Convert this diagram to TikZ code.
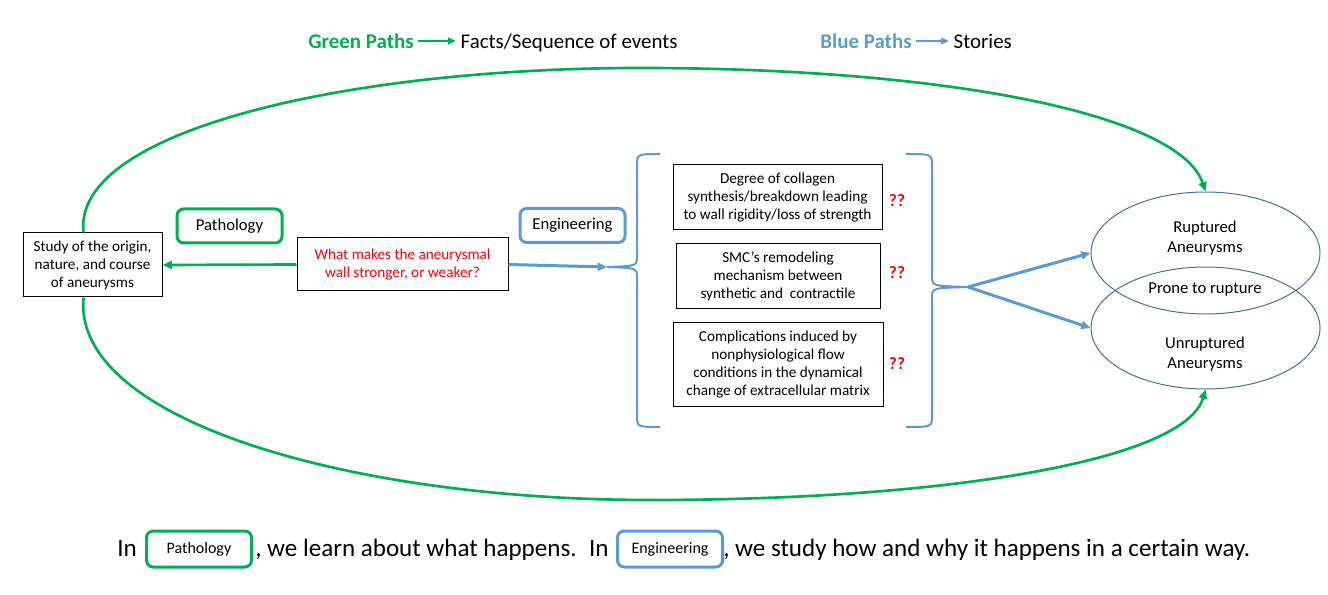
\documentclass[tikz,border=0pt]{standalone}
\usepackage{fontspec}
\setmainfont{Carlito}
\usetikzlibrary{arrows.meta, positioning, shapes.geometric, calc}

\definecolor{pathgreen}{HTML}{00B050}
\definecolor{pathblue}{HTML}{5B9BD5}
\definecolor{ellblue}{HTML}{41719C}

\tikzset{
  plainbox/.style={draw=black, line width=0.75pt, align=center, inner sep=0pt,
    font=\fontsize{11.4}{13.5}\selectfont},
  tagbox/.style={line width=2.25pt, rounded corners=5pt, inner sep=0pt,
    minimum width=78.75pt, minimum height=25.5pt, font=\fontsize{12.5}{14}\selectfont},
  greentag/.style={tagbox, draw=pathgreen},
  bluetag/.style={tagbox, draw=pathblue},
  greenpath/.style={draw=pathgreen, line width=2pt, -{Triangle[length=7pt,width=6pt]}},
  bluepath/.style={draw=pathblue, line width=2.25pt, -{Triangle[length=7pt,width=6pt]}},
  bracepath/.style={draw=pathblue, line width=1.5pt},
  qmark/.style={text=red, font=\bfseries\fontsize{13}{14}\selectfont},
  aneu/.style={ellipse, draw=ellblue, line width=0.75pt, inner sep=0pt,
    minimum width=171.75pt, minimum height=91.5pt},
  aneutext/.style={align=center, font=\fontsize{12.5}{15}\selectfont},
  keytext/.style={font=\fontsize{15.7}{18}\selectfont},
  keybold/.style={font=\bfseries\fontsize{15.7}{18}\selectfont},
  bigtext/.style={anchor=base west, inner sep=0pt, font=\fontsize{18.8}{22}\selectfont},
}

\begin{document}
\begin{tikzpicture}[x=0.75pt, y=-0.75pt]
    \useasboundingbox (0,0) rectangle (1328,595);

    % Legend at the top
    \coordinate (factspos) at (456,0);
    \coordinate (storiespos) at (949,0);
    \node[keybold, text=pathgreen] (greenkey) at (361,41) {Green Paths};
    \node[keytext, anchor=base west] (facts) at (greenkey.base -| factspos) {Facts/Sequence of events};
    \node[keybold, text=pathblue] (bluekey) at (866,41) {Blue Paths};
    \node[keytext, anchor=base west] (stories) at (bluekey.base -| storiespos) {Stories};
    \draw[pathgreen, line width=1.5pt, -{Triangle[length=6pt,width=5pt]}] (greenkey.east) -- (greenkey.east -| facts.west);
    \draw[pathblue, line width=1.5pt, -{Triangle[length=6pt,width=5pt]}] (bluekey.east) -- (bluekey.east -| stories.west);

    % Left side boxes
    \node[plainbox, minimum width=104.25pt, minimum height=48pt] (study) at (92.5,265)
        {Study of the origin,\\nature, and course\\of aneurysms};
    \node[greentag] (patho) at (229.5,226) {Pathology};
    \node[plainbox, minimum width=158.25pt, minimum height=39.75pt, text=red] (question) at (402.5,264.5)
        {What makes the aneurysmal\\wall stronger, or weaker?};
    \node[bluetag] (engin) at (572.5,225.5) {Engineering};

    % Boxes inside the braces
    \node[plainbox, minimum width=156.75pt, minimum height=48.75pt] (collagen) at (777.5,197.5)
        {Degree of collagen\\synthesis/breakdown leading\\to wall rigidity/loss of strength};
    \node[plainbox, minimum width=153pt, minimum height=48.75pt] (smc) at (778,276.5)
        {SMC’s remodeling\\mechanism between\\synthetic and \ contractile};
    \node[plainbox, minimum width=157.5pt, minimum height=62.25pt] (matrix) at (778,364.5)
        {Complications induced by\\nonphysiological flow\\conditions in the dynamical\\change of extracellular matrix};
    \node[qmark] (q1) at (897,201) {??};
    \node[qmark] (q2) at (897,273) {??};
    \node[qmark] (q3) at (897,364) {??};

    % Braces
    \coordinate (ltip) at (607,267);
    \coordinate (rtip) at (968,287);
    \draw[bracepath] (660,154) .. controls (637,154) .. (637,166) -- (637,256)
        .. controls (637,266) .. (ltip) .. controls (637,268) .. (637,278) -- (637,415)
        .. controls (637,427) .. (660,427);
    \draw[bracepath] (906,154) .. controls (932,154) .. (932,166) -- (932,276)
        .. controls (932,286) .. (rtip) .. controls (932,288) .. (932,298) -- (932,415)
        .. controls (932,427) .. (906,427);

    % Aneurysm ellipses
    \node[aneu] (ruptured) at (1205.5,253) {};
    \node[aneu] (unruptured) at (1205.5,328) {};
    \node[aneutext] (rlabel) at (1205,238) {Ruptured\\Aneurysms};
    \node[aneutext] (prone) at (1205,289) {Prone to rupture};
    \node[aneutext] (ulabel) at (1205,354) {Unruptured\\Aneurysms};

    % Paths
    \draw[greenpath] (question.west) -- (study.east);
    \draw[bluepath] (question.east) -- (ltip);
    \draw[bluepath] (rtip) -- (ruptured.west);
    \draw[bluepath] (rtip) -- (unruptured.west);
    \draw[greenpath] ($(study.north)+(-9,0)$) .. controls (72,130) and (350,68) .. (640,68)
        .. controls (950,68) and (1180,115) .. (ruptured.north);
    \draw[greenpath] ($(study.south)+(-9,0)$) .. controls (72,420) and (350,500) .. (650,500)
        .. controls (950,500) and (1185,460) .. (unruptured.south);

    % Bottom sentence
    \node[bigtext] (in1) at (117,556) {In};
    \node[greentag, minimum height=27pt, font=\fontsize{12}{13}\selectfont, anchor=west] (patho2) at (145,549) {Pathology};
    \node[bigtext] (learn) at (255,556) {, we learn about what happens.\hspace{0.5em}In};
    \node[bluetag, minimum height=27pt, font=\fontsize{12}{13}\selectfont, anchor=west] (engin2) at (616,549) {Engineering};
    \node[bigtext] (study2) at (723,556) {, we study how and why it happens in a certain way.};
\end{tikzpicture}
\end{document}
